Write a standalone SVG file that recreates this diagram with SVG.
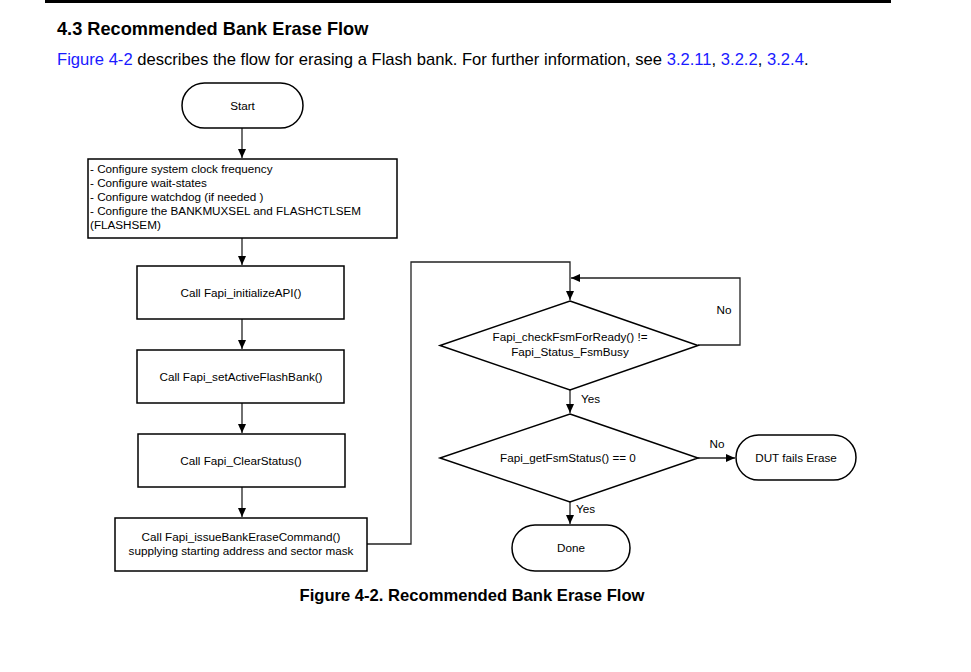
<svg xmlns="http://www.w3.org/2000/svg" width="971" height="672" viewBox="0 0 971 672">
<defs>
<marker id="ah" markerWidth="10" markerHeight="10" refX="9" refY="5" orient="auto" markerUnits="userSpaceOnUse">
<path d="M0,1 L9,5 L0,9 Z" fill="#000"/>
</marker>
<style>
.shape{fill:#fff;stroke:#000;stroke-width:1.5}
.t{font-family:"Liberation Sans",Arial,sans-serif;font-size:11.7px;fill:#000}
.c{text-anchor:middle}
.conn{fill:none;stroke:#222;stroke-width:1.3}
</style>
</defs>
<rect width="971" height="672" fill="#fff"/>
<line x1="45" y1="1.5" x2="891" y2="1.5" stroke="#000" stroke-width="3"/>
<text x="57" y="35" font-family="'Liberation Sans',Arial,sans-serif" font-size="18.2" font-weight="bold" fill="#000">4.3 Recommended Bank Erase Flow</text>
<text x="57" y="65" font-family="'Liberation Sans',Arial,sans-serif" font-size="16.6" fill="#000"><tspan fill="#1a1aff">Figure 4-2</tspan> describes the flow for erasing a Flash bank. For further information, see <tspan fill="#1a1aff">3.2.11</tspan>, <tspan fill="#1a1aff">3.2.2</tspan>, <tspan fill="#1a1aff">3.2.4</tspan>.</text>

<g id="connectors">
<line class="conn" x1="242" y1="128" x2="242" y2="158" marker-end="url(#ah)"/>
<line class="conn" x1="242" y1="238" x2="242" y2="265" marker-end="url(#ah)"/>
<line class="conn" x1="242" y1="319" x2="242" y2="349" marker-end="url(#ah)"/>
<line class="conn" x1="242" y1="403" x2="242" y2="433" marker-end="url(#ah)"/>
<line class="conn" x1="242" y1="487" x2="242" y2="517" marker-end="url(#ah)"/>
<polyline class="conn" points="367,544 411,544 411,262 570,262 570,300" marker-end="url(#ah)"/>
<polyline class="conn" points="698,345 740,345 740,278 571,278" marker-end="url(#ah)"/>
<line class="conn" x1="570" y1="390" x2="570" y2="413" marker-end="url(#ah)"/>
<line class="conn" x1="698" y1="458" x2="735" y2="458" marker-end="url(#ah)"/>
<line class="conn" x1="570" y1="502" x2="570" y2="524" marker-end="url(#ah)"/>
<text class="t" x="724" y="314" text-anchor="middle">No</text>
<text class="t" x="581" y="403">Yes</text>
<text class="t" x="717" y="448" text-anchor="middle">No</text>
<text class="t" x="576" y="513">Yes</text>
</g>

<g id="start">
<rect class="shape" x="182" y="83" width="121" height="45" rx="22.5"/>
<text class="t c" x="242.5" y="109.5">Start</text>
</g>
<g id="configure">
<rect class="shape" x="88" y="159" width="309" height="79"/>
<text class="t" x="90" y="173">- Configure system clock frequency</text>
<text class="t" x="90" y="187">- Configure wait-states</text>
<text class="t" x="90" y="201">- Configure watchdog (if needed )</text>
<text class="t" x="90" y="215">- Configure the BANKMUXSEL and FLASHCTLSEM</text>
<text class="t" x="90" y="229">(FLASHSEM)</text>
</g>
<g id="init">
<rect class="shape" x="137" y="266" width="207" height="53"/>
<text class="t c" x="241" y="296.5">Call Fapi_initializeAPI()</text>
</g>
<g id="setbank">
<rect class="shape" x="137" y="350" width="207" height="53"/>
<text class="t c" x="241" y="380.5">Call Fapi_setActiveFlashBank()</text>
</g>
<g id="clear">
<rect class="shape" x="138" y="434" width="207" height="53"/>
<text class="t c" x="241" y="464.5">Call Fapi_ClearStatus()</text>
</g>
<g id="erase">
<rect class="shape" x="115" y="518" width="252" height="53"/>
<text class="t c" x="241" y="541">Call Fapi_issueBankEraseCommand()</text>
<text class="t c" x="241" y="555">supplying starting address and sector mask</text>
</g>
<g id="check">
<polygon class="shape" points="570,301 698,345.5 570,390 440,345.5"/>
<text class="t c" x="570" y="341">Fapi_checkFsmForReady() !=</text>
<text class="t c" x="570" y="356">Fapi_Status_FsmBusy</text>
</g>
<g id="status">
<polygon class="shape" points="570,414 698,458 570,502 440,458"/>
<text class="t c" x="568" y="461.5">Fapi_getFsmStatus() == 0</text>
</g>
<g id="fail">
<rect class="shape" x="736" y="435" width="120" height="45" rx="22.5"/>
<text class="t c" x="796" y="461.5">DUT fails Erase</text>
</g>
<g id="done">
<rect class="shape" x="512" y="525" width="118" height="46" rx="23"/>
<text class="t c" x="571" y="552">Done</text>
</g>
<text x="472" y="601" font-family="'Liberation Sans',Arial,sans-serif" font-size="16.6" font-weight="bold" text-anchor="middle" fill="#000">Figure 4-2. Recommended Bank Erase Flow</text>
</svg>
